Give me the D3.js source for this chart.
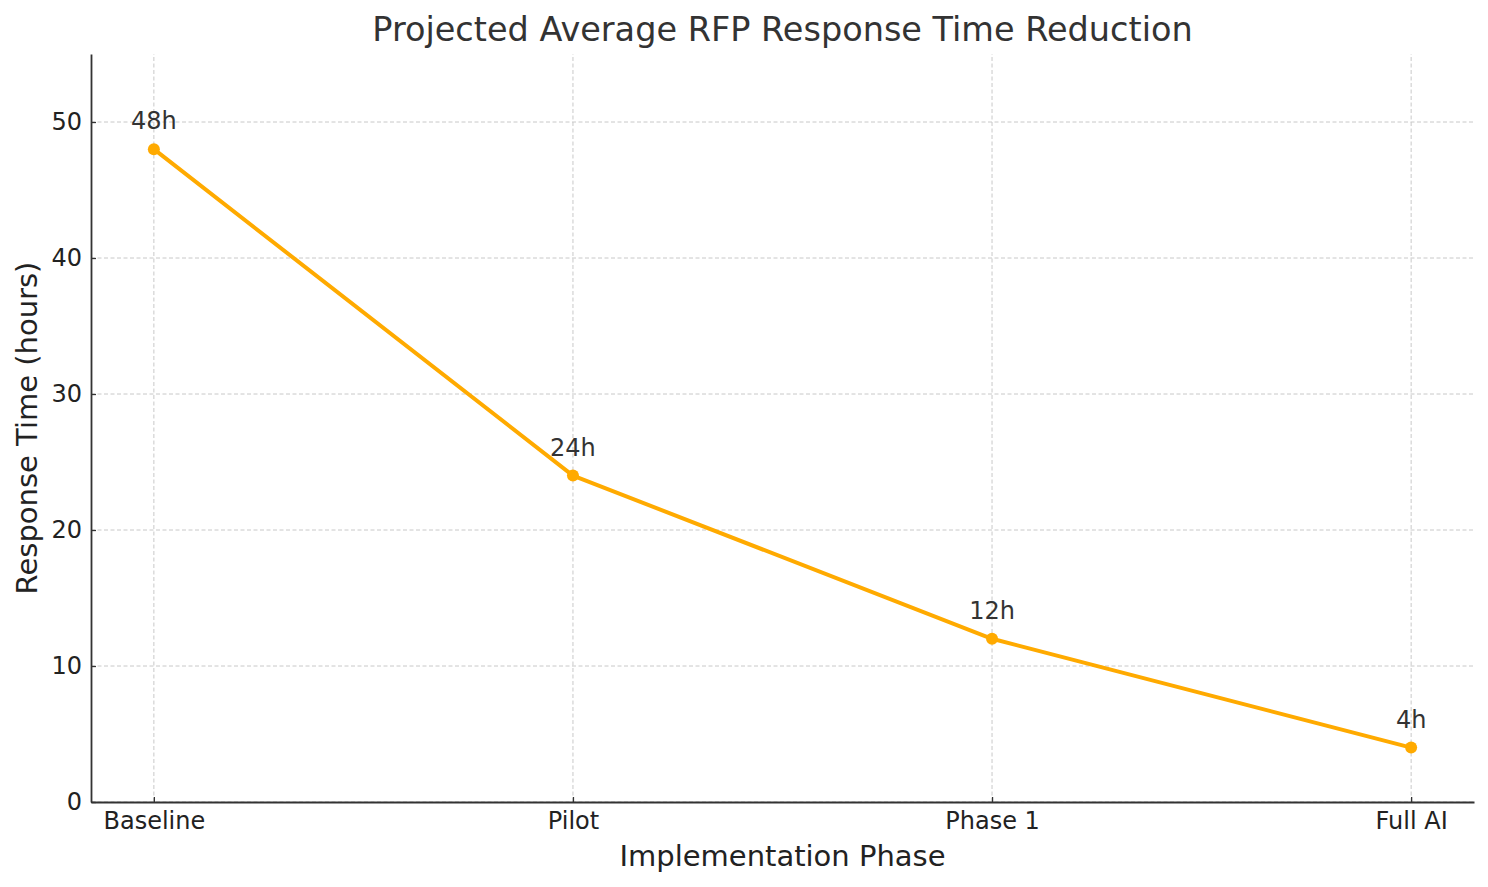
<!DOCTYPE html>
<html>
<head>
<meta charset="utf-8">
<script src="https://cdn.jsdelivr.net/npm/d3@7"></script>
<style>
  body { margin: 0; background: #fff; }
  text { font-family: "DejaVu Sans", sans-serif; }
</style>
</head>
<body>
<svg id="chart" width="1488" height="887"></svg>
<script>
// data
const phases = ["Baseline", "Pilot", "Phase 1", "Full AI"];
const hours = [48, 24, 12, 4];
const yTicks = [0, 10, 20, 30, 40, 50];

const W = 1488, H = 887;
const m = { left: 91, right: 14, top: 54, bottom: 85 };

const svg = d3.select("#chart");

const x = d3.scaleLinear()
    .domain([-0.15, phases.length - 1 + 0.15])
    .range([m.left, W - m.right]);

const y = d3.scaleLinear()
    .domain([0, 55])
    .range([H - m.bottom, m.top]);

// grid
const grid = svg.append("g").attr("stroke", "#c8c8c8").attr("stroke-width", 1)
    .attr("stroke-dasharray", "4,2.5");
grid.selectAll("line.gx").data(phases).enter().append("line")
    .attr("x1", (d, i) => x(i)).attr("x2", (d, i) => x(i))
    .attr("y1", y.range()[0]).attr("y2", y.range()[1]);
grid.selectAll("line.gy").data(yTicks).enter().append("line")
    .attr("x1", x.range()[0]).attr("x2", x.range()[1])
    .attr("y1", d => y(d)).attr("y2", d => y(d));

// axes, ticks pointing inward
const xAxis = svg.append("g")
    .attr("transform", `translate(0,${y(0)})`)
    .call(d3.axisBottom(x).tickValues(d3.range(phases.length))
        .tickFormat(i => phases[i]).tickSizeInner(-5).tickSizeOuter(0).tickPadding(10));
const yAxis = svg.append("g")
    .attr("transform", `translate(${x.range()[0]},0)`)
    .call(d3.axisLeft(y).tickValues(yTicks).tickSizeInner(-5).tickSizeOuter(0).tickPadding(9));

[xAxis, yAxis].forEach(a => {
    a.select(".domain").attr("stroke", "#333").attr("stroke-width", 1.8);
    a.selectAll(".tick line").attr("stroke", "#333").attr("stroke-width", 1.3);
    a.selectAll(".tick text").attr("fill", "#222").style("font-size", "24px")
        .style("font-family", "DejaVu Sans, sans-serif");
});

// line + markers
const color = "#ffaa00";
const line = d3.line().x((d, i) => x(i)).y(d => y(d));
svg.append("path").datum(hours)
    .attr("d", line).attr("fill", "none")
    .attr("stroke", color).attr("stroke-width", 4)
    .attr("stroke-linejoin", "round");
svg.selectAll("circle.pt").data(hours).enter().append("circle")
    .attr("cx", (d, i) => x(i)).attr("cy", d => y(d)).attr("r", 6)
    .attr("fill", color);

// value labels
svg.selectAll("text.lbl").data(hours).enter().append("text")
    .attr("x", (d, i) => x(i)).attr("y", d => y(d) - 20)
    .attr("text-anchor", "middle").attr("fill", "#333")
    .style("font-size", "24px")
    .text(d => d + "h");

// titles
svg.append("text")
    .attr("x", (x.range()[0] + x.range()[1]) / 2).attr("y", 41)
    .attr("text-anchor", "middle").attr("fill", "#333")
    .style("font-size", "33.5px")
    .text("Projected Average RFP Response Time Reduction");
svg.append("text")
    .attr("x", (x.range()[0] + x.range()[1]) / 2).attr("y", 866)
    .attr("text-anchor", "middle").attr("fill", "#222")
    .style("font-size", "29px")
    .text("Implementation Phase");
svg.append("text")
    .attr("transform", `translate(37,${(y.range()[0] + y.range()[1]) / 2}) rotate(-90)`)
    .attr("text-anchor", "middle").attr("fill", "#222")
    .style("font-size", "29px")
    .text("Response Time (hours)");
</script>
</body>
</html>
